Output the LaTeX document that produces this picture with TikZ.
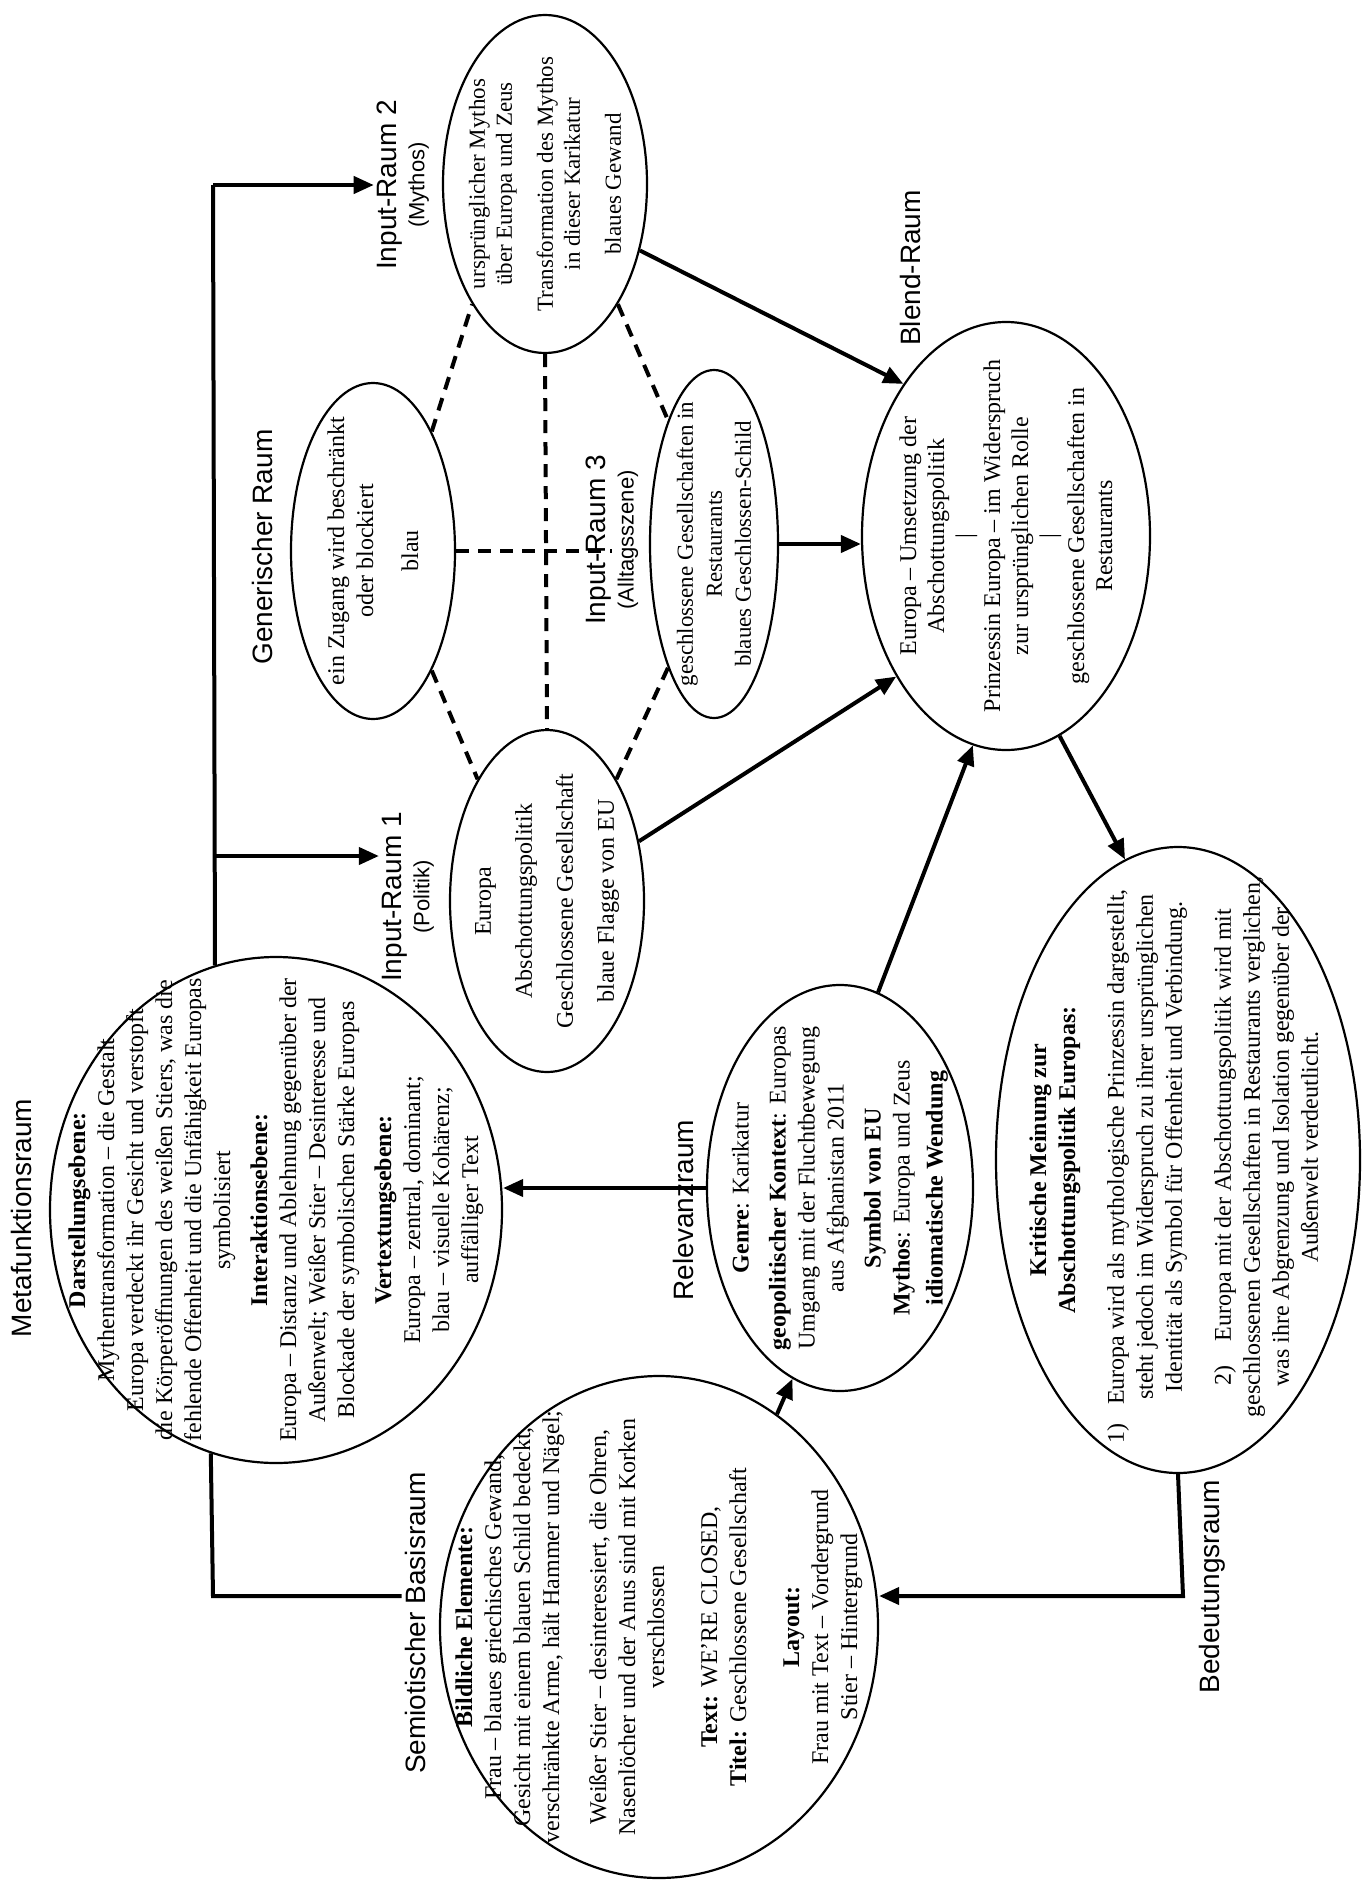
\documentclass[tikz,border=0pt]{standalone}
\usepackage{fontspec}
\setmainfont{Liberation Serif}
\newfontfamily\labfont{Liberation Sans}
\usetikzlibrary{arrows.meta,shapes.geometric}
\begin{document}
\begin{tikzpicture}[x=1pt,y=-1pt,
  ell/.style={draw,ellipse,line width=2.2pt,inner sep=0pt},
  txt/.style={rotate=90,align=center,inner sep=0pt,font=\fontsize{24}{29}\selectfont},
  lab/.style={rotate=90,align=center,inner sep=3pt,font=\labfont\fontsize{28}{30}\selectfont},
  conn/.style={line width=4pt},
  arr/.style={line width=4pt,-{Triangle[length=20pt,width=17pt]}},
  dashln/.style={line width=4pt,dash pattern=on 13pt off 9pt}]
\useasboundingbox (0,0) rectangle (1370,1897);
% ellipses
\node[ell,minimum width=452pt,minimum height=506pt] (meta) at (276,1210) {};
\node[ell,minimum width=438pt,minimum height=502pt] (basis) at (659,1627) {};
\node[ell,minimum width=266pt,minimum height=406pt] (rel) at (840,1188) {};
\node[ell,minimum width=364pt,minimum height=626pt] (bed) at (1178,1160) {};
\node[ell,minimum width=194pt,minimum height=342pt] (in1) at (547,901) {};
\node[ell,minimum width=164pt,minimum height=336pt] (gen) at (373,551) {};
\node[ell,minimum width=128pt,minimum height=348pt] (in3) at (714,544) {};
\node[ell,minimum width=204pt,minimum height=338pt] (in2) at (545,184) {};
\node[ell,minimum width=288pt,minimum height=428pt] (blend) at (1006,536) {};
% texts
\node[txt] (tmeta) at (meta) {\textbf{Darstellungsebene:}\\Mythentransformation – die Gestalt\\Europa verdeckt ihr Gesicht und verstopft\\die Körperöffnungen des weißen Stiers, was die\\fehlende Offenheit und die Unfähigkeit Europas\\symbolisiert\\[8pt]\textbf{Interaktionsebene:}\\Europa – Distanz und Ablehnung gegenüber der\\Außenwelt; Weißer Stier – Desinteresse und\\Blockade der symbolischen Stärke Europas\\[8pt]\textbf{Vertextungsebene:}\\Europa – zentral, dominant;\\blau – visuelle Kohärenz;\\auffälliger Text};
\node[txt] (tbasis) at (basis) {\textbf{Bildliche Elemente:}\\Frau – blaues griechisches Gewand,\\Gesicht mit einem blauen Schild bedeckt,\\verschränkte Arme, hält Hammer und Nägel;\\[18pt]Weißer Stier – desinteressiert, die Ohren,\\Nasenlöcher und der Anus sind mit Korken\\verschlossen\\[24pt]\textbf{Text:} WE’RE CLOSED,\\\textbf{Titel:} Geschlossene Gesellschaft\\[24pt]\textbf{Layout:}\\Frau mit Text – Vordergrund\\Stier – Hintergrund};
\node[txt] (trel) at (rel) {\textbf{Genre}: Karikatur\\[8pt]\textbf{geopolitischer Kontext}: Europas\\Umgang mit der Fluchtbewegung\\aus Afghanistan 2011\\[8pt]\textbf{Symbol von EU}\\\textbf{Mythos}: Europa und Zeus\\[4pt]\textbf{idiomatische Wendung}};
\node[txt] (tbed) at (bed) {\textbf{Kritische Meinung zur}\\\textbf{Abschottungspolitik Europas:}\\[22pt]
\begin{tabular}{@{}l@{\hspace{6pt}}c@{}}
1) & Europa wird als mythologische Prinzessin dargestellt,\\
 & steht jedoch im Widerspruch zu ihrer ursprünglichen\\
 & Identität als Symbol für Offenheit und Verbindung.\\[20pt]
 & 2)\quad Europa mit der Abschottungspolitik wird mit\\
 & geschlossenen Gesellschaften in Restaurants verglichen,\\
 & was ihre Abgrenzung und Isolation gegenüber der\\
 & Außenwelt verdeutlicht.
\end{tabular}};
\node[txt,font=\fontsize{24}{41}\selectfont] (tin1) at (in1) {Europa\\Abschottungspolitik\\Geschlossene Gesellschaft\\blaue Flagge von EU};
\node[txt] (tgen) at (gen) {ein Zugang wird beschränkt\\oder blockiert\\[16pt]blau};
\node[txt,font=\fontsize{23}{29}\selectfont] (tin3) at (in3) {geschlossene Gesellschaften in\\Restaurants\\blaues Geschlossen-Schild};
\node[txt,font=\fontsize{23}{27}\selectfont] (tin2) at (in2) {ursprünglicher Mythos\\über Europa und Zeus\\[14pt]Transformation des Mythos\\in dieser Karikatur\\[14pt]blaues Gewand};
\node[txt,font=\fontsize{24}{28}\selectfont] (tblend) at (blend) {Europa – Umsetzung der\\Abschottungspolitik\\|\\Prinzessin Europa – im Widerspruch\\zur ursprünglichen Rolle\\|\\geschlossene Gesellschaften in\\Restaurants};
% labels
\node[lab] (lmeta) at (21,1218) {Metafunktionsraum};
\node[lab] (lgen) at (262,547) {Generischer Raum};
\node[lab] (l3) at (612,540) {Input-Raum 3\\[-2pt]{\fontsize{22}{24}\selectfont(Alltagsszene)}};
\node[lab] (l2) at (403,185) {Input-Raum 2\\[-2pt]{\fontsize{22}{24}\selectfont(Mythos)}};
\node[lab] (l1) at (408,897) {Input-Raum 1\\[-2pt]{\fontsize{22}{24}\selectfont(Politik)}};
\node[lab] (lblend) at (910,268) {Blend-Raum};
\node[lab] (lrel) at (683,1210) {Relevanzraum};
\node[lab] (lsem) at (415,1623) {Semiotischer Basisraum};
\node[lab] (lbed) at (1212,1587) {Bedeutungsraum};
% coordinates
\coordinate (ct) at (213,185);
\coordinate (c1) at (213,856);
\coordinate (cb) at (213,1596);
\coordinate (bc) at (1183,1596);
% bracket
\draw[conn] (meta.104.5) -- (ct);
\draw[arr] (ct) -- (l2.north |- ct);
\draw[arr] (c1) -- (l1.north |- c1);
\draw[conn] (meta.255.5) -- (cb) -- (lsem.north |- cb);
% dashed
\draw[dashln] (gen.north east) -- (in2.south west);
\draw[dashln] (gen.south east) -- (in1.north west);
\draw[dashln] (in2.south east) -- (in3.north west);
\draw[dashln] (in3.south west) -- (in1.north east);
\draw[dashln] (in2.south) -- (in1.north);
\draw[dashln] (gen.east) -- (l3.west |- gen.east);
% arrows
\draw[arr] (in2.-35) -- (blend.124.5);
\draw[arr] (in3.east) -- (in3.east -| blend.west);
\draw[arr] (in1.33.4) -- (blend.232);
\draw[arr] (rel.79.4) -- (blend.261);
\draw[arr] (blend.-75) -- (bed.100.2);
\draw[arr] (rel.west) -- (rel.west -| meta.east);
\draw[arr] (basis.61.6) -- (rel.256);
\draw[arr] (bed.south) -- (bc) -- (bc -| basis.east);
\end{tikzpicture}
\end{document}
